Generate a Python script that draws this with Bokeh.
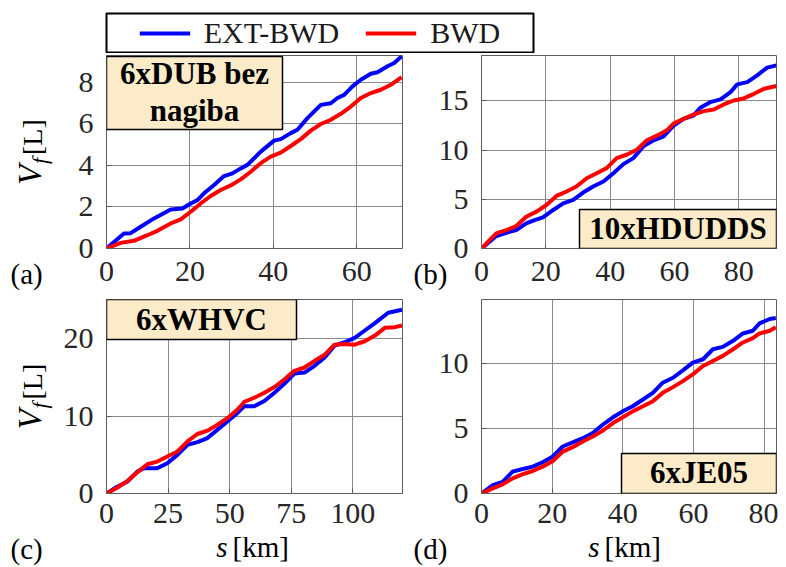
import math
from bokeh.plotting import figure
from bokeh.models import Range1d, FixedTicker, Label, BoxAnnotation, Legend, LegendItem, GridBox
from bokeh.layouts import column, row
from bokeh.embed import file_html
from bokeh.resources import INLINE

# ---------------- data ----------------
series_names = ["EXT-BWD", "BWD"]

# (a) 6xDUB bez nagiba
a_s_ext = [0, 2, 4.2, 5.8, 8.2, 11.4, 15.4, 18.2, 20.2, 21.8, 23.4, 25.8, 28.2, 30.2, 32.2, 33.8, 37, 40.2,
           41.8, 44.2, 45.8, 48.2, 51.4, 53.8, 55.4, 57, 59, 61, 63.4, 65, 67.4, 69, 70.8]
a_v_ext = [0, 0.35, 0.72, 0.74, 1.05, 1.45, 1.88, 1.93, 2.17, 2.33, 2.66, 3.06, 3.49, 3.62, 3.86, 4.03, 4.67,
           5.2, 5.27, 5.56, 5.72, 6.28, 6.92, 7.0, 7.25, 7.4, 7.81, 8.13, 8.42, 8.49, 8.78, 8.94, 9.26]
a_s_bwd = [0, 3.4, 6.6, 9.8, 12.2, 15.4, 17.8, 20.2, 22.6, 25, 27.4, 29.8, 32.2, 34.6, 37, 39.4, 41.8, 44.2,
           46.6, 49, 51.4, 53.8, 56.2, 58.6, 61, 63.4, 65.8, 68.2, 70.8]
a_v_bwd = [0, 0.27, 0.37, 0.64, 0.85, 1.21, 1.40, 1.77, 2.17, 2.53, 2.82, 3.04, 3.33, 3.70, 4.11, 4.43, 4.62,
           4.94, 5.27, 5.68, 6.0, 6.2, 6.49, 6.84, 7.25, 7.49, 7.65, 7.89, 8.26]

# (b) 10xHDUDDS
b_s_ext = [0, 2.5, 4.6, 7.7, 10.8, 13.9, 16.5, 19.1, 22.3, 25.4, 28.5, 31.6, 34.7, 37.9, 41, 44.1, 47.2, 50.3,
           53.5, 56.6, 59.7, 62.8, 65.9, 68, 71.1, 74.3, 77.4, 79.5, 82.6, 85.7, 88.8, 91.7]
b_v_ext = [0, 0.68, 1.26, 1.6, 1.87, 2.55, 2.89, 3.16, 3.91, 4.59, 4.93, 5.68, 6.29, 6.8, 7.65, 8.57, 9.18,
           10.37, 10.99, 11.39, 12.48, 13.16, 13.5, 14.29, 14.86, 15.14, 15.88, 16.67, 16.9, 17.59, 18.37, 18.6]
b_s_bwd = [0, 2.5, 4.6, 7.7, 10.8, 13.9, 17.1, 20.2, 23.3, 26.4, 29.5, 32.7, 35.8, 38.9, 42, 45.1, 48.3, 51.4,
           54.5, 57.6, 59.7, 62.8, 65.9, 69.1, 72.2, 75.3, 78.4, 81.5, 84.7, 87.8, 91.7]
b_v_bwd = [0, 0.85, 1.53, 1.87, 2.28, 3.23, 3.74, 4.42, 5.34, 5.78, 6.29, 7.14, 7.65, 8.16, 9.18, 9.52, 10.03,
           10.99, 11.46, 12.0, 12.69, 13.16, 13.6, 13.95, 14.12, 14.63, 15.03, 15.24, 15.71, 16.22, 16.5]

# (c) 6xWHVC
c_s_ext = [0, 4.3, 8.4, 12.5, 15.2, 20.6, 24.7, 28.8, 32.9, 36.9, 41, 45.1, 49.2, 53.2, 56, 60, 64.1, 68.2,
           72.3, 76.3, 80.4, 84.5, 88.6, 92.6, 96.7, 100.8, 104.9, 109, 114.4, 120]
c_v_ext = [0, 0.87, 1.52, 2.83, 3.26, 3.26, 3.91, 5.0, 6.3, 6.65, 7.17, 8.26, 9.35, 10.43, 11.3, 11.3, 11.96,
           13.04, 14.22, 15.52, 15.65, 16.52, 17.61, 19.13, 19.57, 20.13, 21.09, 22.04, 23.39, 23.78]
c_s_bwd = [0, 4.3, 8.4, 12.5, 16.6, 20.6, 24.7, 28.8, 32.9, 36.9, 41, 45.1, 49.2, 53.2, 56, 60, 64.1, 68.2,
           72.3, 76.3, 80.4, 84.5, 88.6, 92.6, 96.7, 100.8, 104.9, 109, 113, 117.1, 120]
c_v_bwd = [0, 0.74, 1.6, 2.74, 3.78, 4.13, 4.78, 5.43, 6.74, 7.7, 8.13, 8.91, 9.78, 10.87, 11.87, 12.39, 13.04,
           13.78, 14.78, 15.87, 16.3, 17.17, 17.96, 19.26, 19.35, 19.26, 19.7, 20.43, 21.43, 21.52, 21.74]

# (d) 6xJE05
d_s_ext = [0, 3.2, 6, 8.8, 11.7, 14.5, 17.3, 20.2, 23, 25.8, 28.7, 31.5, 34.3, 37.2, 40, 42.8, 45.7, 48.5,
           51.3, 54.2, 57, 59.8, 62.7, 65.5, 68.3, 71.2, 74, 76.8, 78.7, 81.6, 83.3]
d_v_ext = [0, 0.64, 0.9, 1.68, 1.88, 2.06, 2.4, 2.84, 3.61, 3.92, 4.25, 4.64, 5.28, 5.85, 6.31, 6.7, 7.22,
           7.73, 8.51, 8.89, 9.46, 10.05, 10.31, 11.08, 11.26, 11.73, 12.29, 12.5, 13.07, 13.4, 13.48]
d_s_bwd = d_s_ext
d_v_bwd = [0, 0.39, 0.7, 1.16, 1.49, 1.73, 2.06, 2.5, 3.22, 3.56, 4.0, 4.38, 4.82, 5.41, 5.85, 6.31, 6.7,
           7.09, 7.73, 8.17, 8.63, 9.15, 9.79, 10.18, 10.57, 11.08, 11.6, 11.93, 12.29, 12.5, 12.76]

a_xticks = [0, 20, 40, 60]
a_yticks = [0, 2, 4, 6, 8]
b_xticks = [0, 20, 40, 60, 80]
b_yticks = [0, 5, 10, 15]
c_xticks = [0, 25, 50, 75, 100]
c_yticks = [0, 10, 20]
d_xticks = [0, 20, 40, 60, 80]
d_yticks = [0, 5, 10]

cycle_a = ["6xDUB bez", "nagiba"]
cycle_b = "10xHDUDDS"
cycle_c = "6xWHVC"
cycle_d = "6xJE05"
panel_tags = ["(a)", "(b)", "(c)", "(d)"]

# ---------------- style ----------------
FONT = "Liberation Serif"
BLUE = "#0000ff"
RED = "#ff0000"
GRID = "#8a8a8a"
AX = "#5e5e5e"
BOXFILL = "#fbebc8"
TICK_FS = "30px"
PAGE_W, PAGE_H = 778, 567


def make_panel(xmax, ymax, xticks, yticks, s_ext, v_ext, s_bwd, v_bwd,
               left, right, top, bottom, fw, fh, xstand):
    p = figure(frame_width=fw, frame_height=fh, output_backend="svg", toolbar_location=None,
               x_range=Range1d(0, xmax), y_range=Range1d(0, ymax),
               min_border_left=left, min_border_right=right,
               min_border_top=top, min_border_bottom=bottom)
    p.line(s_ext, v_ext, line_color=BLUE, line_width=4)
    p.line(s_bwd, v_bwd, line_color=RED, line_width=4)
    p.xaxis.ticker = FixedTicker(ticks=xticks)
    p.yaxis.ticker = FixedTicker(ticks=yticks)
    p.xgrid.ticker = FixedTicker(ticks=xticks)
    p.ygrid.ticker = FixedTicker(ticks=yticks)
    p.grid.grid_line_color = GRID
    p.grid.grid_line_width = 1
    p.axis.major_label_text_font = FONT
    p.axis.major_label_text_font_size = TICK_FS
    p.axis.major_label_text_color = "#262626"
    p.axis.axis_line_color = AX
    p.axis.major_tick_line_color = AX
    p.axis.major_tick_in = 5
    p.axis.major_tick_out = 0
    p.axis.minor_tick_line_color = None
    p.xaxis.major_label_standoff = xstand
    p.yaxis.major_label_standoff = 13
    p.outline_line_color = AX
    p.outline_line_width = 1
    p.background_fill_color = "white"
    p.border_fill_color = "white"
    return p


def add_box(p, l, r, b, t):
    p.add_layout(BoxAnnotation(left=l, right=r, bottom=b, top=t,
                               left_units="screen", right_units="screen",
                               bottom_units="screen", top_units="screen",
                               fill_color=BOXFILL, fill_alpha=1.0,
                               line_color="black", line_alpha=1.0, line_width=1.5,
                               line_dash="solid"))


def label(p, x, y, text, size=31, style="bold", align="center", angle=0.0):
    # y given as intended baseline (upwards from frame bottom); Bokeh puts text ~0.33em lower
    corr = 0.33 * size
    if angle == 0.0:
        y = y + corr
    else:
        x = x - corr
    p.add_layout(Label(x=x, y=y, x_units="screen", y_units="screen", text=text,
                       text_font=FONT, text_font_size=f"{size}px", text_font_style=style,
                       text_color="black", text_align=align, text_baseline="alphabetic",
                       angle=angle))


# Legend strip (frame outline acts as the legend box)
pl = figure(frame_width=427, frame_height=39, output_backend="svg", toolbar_location=None,
            x_range=Range1d(-3, -2), y_range=Range1d(-3, -2),
            x_axis_location=None, y_axis_location=None,
            min_border_left=106, min_border_right=245, min_border_top=13, min_border_bottom=1)
pl.grid.visible = False
pl.outline_line_color = "black"
pl.outline_line_width = 2
rl1 = pl.line(a_s_ext, a_v_ext, line_color=BLUE, line_width=4)
rl2 = pl.line(a_s_bwd, a_v_bwd, line_color=RED, line_width=4)
leg = Legend(items=[LegendItem(label=series_names[0], renderers=[rl1]),
                    LegendItem(label=series_names[1], renderers=[rl2])],
             location="center", orientation="horizontal",
             label_text_font=FONT, label_text_font_size="30px", label_text_color="#1a1a1a",
             glyph_width=51, label_standoff=14, spacing=26, padding=0, margin=0,
             border_line_alpha=0, background_fill_alpha=0)
pl.add_layout(leg, "center")

# Panels
pa = make_panel(71, 9.3, a_xticks, a_yticks, a_s_ext, a_v_ext, a_s_bwd, a_v_bwd,
                106, 3, 2, 44, 296, 193, 13)
pb = make_panel(91.7, 19.6, b_xticks, b_yticks, b_s_ext, b_v_ext, b_s_bwd, b_v_bwd,
                76, 2, 2, 44, 295, 193, 13)
pc = make_panel(120.2, 25.1, c_xticks, c_yticks, c_s_ext, c_v_ext, c_s_bwd, c_v_bwd,
                106, 3, 7, 66, 296, 194, 10)
pd = make_panel(83.5, 14.9, d_xticks, d_yticks, d_s_ext, d_v_ext, d_s_bwd, d_v_bwd,
                76, 2, 7, 66, 295, 194, 10)

# cycle boxes (inside the frames)
add_box(pa, 0, 176, 119, 192)
label(pa, 88, 165, cycle_a[0])
label(pa, 88, 128, cycle_a[1])

add_box(pb, 98, 295, 0, 39)
label(pb, 196.5, 10, cycle_b)

add_box(pc, 0, 190, 154, 194)
label(pc, 95, 164, cycle_c)

add_box(pd, 140, 295, 0, 40)
label(pd, 217.5, 11, cycle_d)

main = column(pl, row(pa, pb), row(pc, pd))

# Transparent overlay for the texts that sit outside the plot frames
ov = figure(frame_width=PAGE_W, frame_height=PAGE_H, output_backend="svg", toolbar_location=None,
            x_range=Range1d(0, PAGE_W), y_range=Range1d(0, PAGE_H),
            x_axis_location=None, y_axis_location=None, min_border=0)
ov.grid.visible = False
ov.outline_line_color = None
ov.background_fill_alpha = 0
ov.border_fill_alpha = 0


def otext(x, y_screen, text, size=29, style="normal", align="left", angle=0.0):
    label(ov, x, PAGE_H - y_screen, text, size=size, style=style, align=align, angle=angle)


# panel tags
otext(10, 283, panel_tags[0])
otext(413, 283, panel_tags[1])
otext(10, 558, panel_tags[2])
otext(413, 558, panel_tags[3])

# x labels  (s [km])
otext(227, 556, "s", style="italic", align="right")
otext(232, 556, "[km]")
otext(599, 556, "s", style="italic", align="right")
otext(604, 556, "[km]")

# y labels  (V_f [L]), rotated
for yc in (151.5, 396.0):
    otext(40, yc + 33, "V", size=33, style="italic", angle=math.pi / 2)
    otext(46, yc + 12, "f", size=22, style="italic", angle=math.pi / 2)
    otext(41, yc + 3, "[L]", size=28, angle=math.pi / 2)

layout = GridBox(children=[(main, 0, 0), (ov, 0, 0)])
open("out.html", "w").write(file_html(layout, INLINE))
